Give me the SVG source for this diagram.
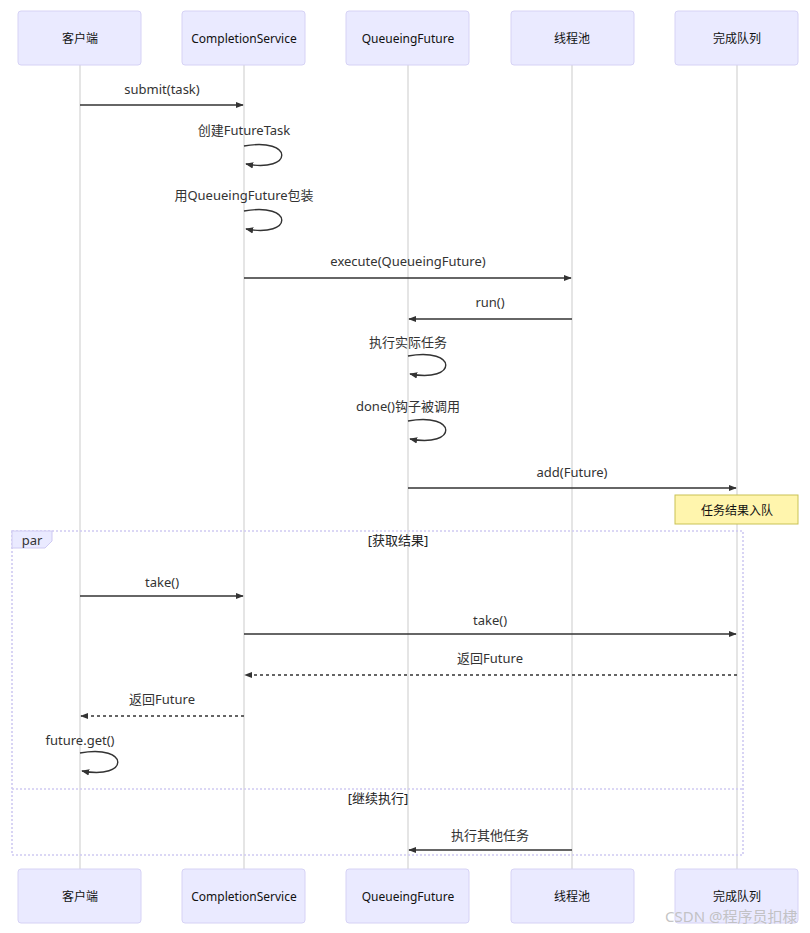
<svg xmlns="http://www.w3.org/2000/svg" width="810" height="933" viewBox="0 0 810 933">
<style>
.actor{fill:#eaeaff;stroke:#d6d2f5;stroke-width:1}
.atext{font-family:"Noto Sans","Noto Sans CJK SC",sans-serif;font-size:12px;fill:#111;text-anchor:middle;dominant-baseline:central}
.life{stroke:#d4d4d4;stroke-width:1.2}
.msg{stroke:#333;stroke-width:1.4;fill:none}
.dash{stroke-dasharray:3 3}
.mtext{font-family:"Noto Sans","Noto Sans CJK SC",sans-serif;font-size:13px;fill:#333;text-anchor:middle}
.loopbox{fill:none;stroke:#cfcaf2;stroke-width:1.6;stroke-dasharray:2 2}
.note{fill:#fff5ad;stroke:#c9c255;stroke-width:1}
.wm{font-family:"Noto Sans","Noto Sans CJK SC",sans-serif;font-size:15px;fill:#bdbdbd;fill-opacity:0.9}
</style>
<defs>
<marker id="arr" viewBox="0 0 10 10" refX="9" refY="5" markerWidth="8" markerHeight="8" markerUnits="userSpaceOnUse" orient="auto">
<path d="M0,1 L10,5 L0,9 z" fill="#333"/>
</marker>
</defs>
<rect width="810" height="933" fill="#fff"/>
<g id="lifelines">
<line class="life" x1="80" y1="65" x2="80" y2="869"/>
<line class="life" x1="244" y1="65" x2="244" y2="869"/>
<line class="life" x1="408" y1="65" x2="408" y2="869"/>
<line class="life" x1="572" y1="65" x2="572" y2="869"/>
<line class="life" x1="737" y1="65" x2="737" y2="869"/>
</g>
<g id="actor-client-top"><rect class="actor" x="18" y="11" width="123" height="54" rx="3"/><text class="atext" x="80" y="38">客户端</text></g>
<g id="actor-cs-top"><rect class="actor" x="182" y="11" width="123" height="54" rx="3"/><text class="atext" x="244" y="38">CompletionService</text></g>
<g id="actor-qf-top"><rect class="actor" x="346" y="11" width="123" height="54" rx="3"/><text class="atext" x="408" y="38">QueueingFuture</text></g>
<g id="actor-pool-top"><rect class="actor" x="511" y="11" width="123" height="54" rx="3"/><text class="atext" x="572" y="38">线程池</text></g>
<g id="actor-queue-top"><rect class="actor" x="675" y="11" width="123" height="54" rx="3"/><text class="atext" x="737" y="38">完成队列</text></g>
<g id="actor-client-bottom"><rect class="actor" x="18" y="869" width="123" height="54" rx="3"/><text class="atext" x="80" y="896">客户端</text></g>
<g id="actor-cs-bottom"><rect class="actor" x="182" y="869" width="123" height="54" rx="3"/><text class="atext" x="244" y="896">CompletionService</text></g>
<g id="actor-qf-bottom"><rect class="actor" x="346" y="869" width="123" height="54" rx="3"/><text class="atext" x="408" y="896">QueueingFuture</text></g>
<g id="actor-pool-bottom"><rect class="actor" x="511" y="869" width="123" height="54" rx="3"/><text class="atext" x="572" y="896">线程池</text></g>
<g id="actor-queue-bottom"><rect class="actor" x="675" y="869" width="123" height="54" rx="3"/><text class="atext" x="737" y="896">完成队列</text></g>
<g id="par-block">
<rect class="loopbox" x="12" y="531" width="731" height="324"/>
<polygon points="12,531 52,531 52,541 45,548 12,548" fill="#eaeaff" stroke="#cfcaf2" stroke-width="1"/>
<text class="mtext" x="32" y="545" style="fill:#333">par</text>
<text class="mtext" x="398" y="545" style="fill:#222">[获取结果]</text>
<line class="loopbox" x1="12" y1="789" x2="743" y2="789"/>
<text class="mtext" x="378" y="803" style="fill:#222">[继续执行]</text>
</g>
<g id="note-enqueue"><rect class="note" x="675" y="495" width="123" height="29"/><text class="atext" x="737" y="510">任务结果入队</text></g>
<g id="connectors">
<line class="msg" x1="80" y1="105" x2="243" y2="105" marker-end="url(#arr)"/>
<text class="mtext" x="162" y="94">submit(task)</text>
<path class="msg" d="M244,146 C294,137 294,173 246,164" marker-end="url(#arr)"/>
<text class="mtext" x="244" y="135">创建FutureTask</text>
<path class="msg" d="M244,211 C294,202 294,238 246,229" marker-end="url(#arr)"/>
<text class="mtext" x="244" y="200">用QueueingFuture包装</text>
<line class="msg" x1="244" y1="278" x2="571" y2="278" marker-end="url(#arr)"/>
<text class="mtext" x="408" y="266">execute(QueueingFuture)</text>
<line class="msg" x1="572" y1="319" x2="409" y2="319" marker-end="url(#arr)"/>
<text class="mtext" x="490" y="307">run()</text>
<path class="msg" d="M408,356 C458,347 458,383 410,374" marker-end="url(#arr)"/>
<text class="mtext" x="408" y="347">执行实际任务</text>
<path class="msg" d="M408,421 C458,412 458,448 410,439" marker-end="url(#arr)"/>
<text class="mtext" x="408" y="411">done()钩子被调用</text>
<line class="msg" x1="408" y1="488" x2="736" y2="488" marker-end="url(#arr)"/>
<text class="mtext" x="572" y="477">add(Future)</text>
<line class="msg" x1="80" y1="596" x2="243" y2="596" marker-end="url(#arr)"/>
<text class="mtext" x="162" y="587">take()</text>
<line class="msg" x1="244" y1="634" x2="736" y2="634" marker-end="url(#arr)"/>
<text class="mtext" x="490" y="625">take()</text>
<line class="msg dash" x1="737" y1="675" x2="245" y2="675" marker-end="url(#arr)"/>
<text class="mtext" x="490" y="663">返回Future</text>
<line class="msg dash" x1="244" y1="716" x2="81" y2="716" marker-end="url(#arr)"/>
<text class="mtext" x="162" y="704">返回Future</text>
<path class="msg" d="M80,753 C130,744 130,780 82,771" marker-end="url(#arr)"/>
<text class="mtext" x="80" y="745">future.get()</text>
<line class="msg" x1="572" y1="850" x2="409" y2="850" marker-end="url(#arr)"/>
<text class="mtext" x="490" y="840">执行其他任务</text>
</g>
<text class="wm" x="665" y="922">CSDN @程序员扣棣</text>
</svg>
